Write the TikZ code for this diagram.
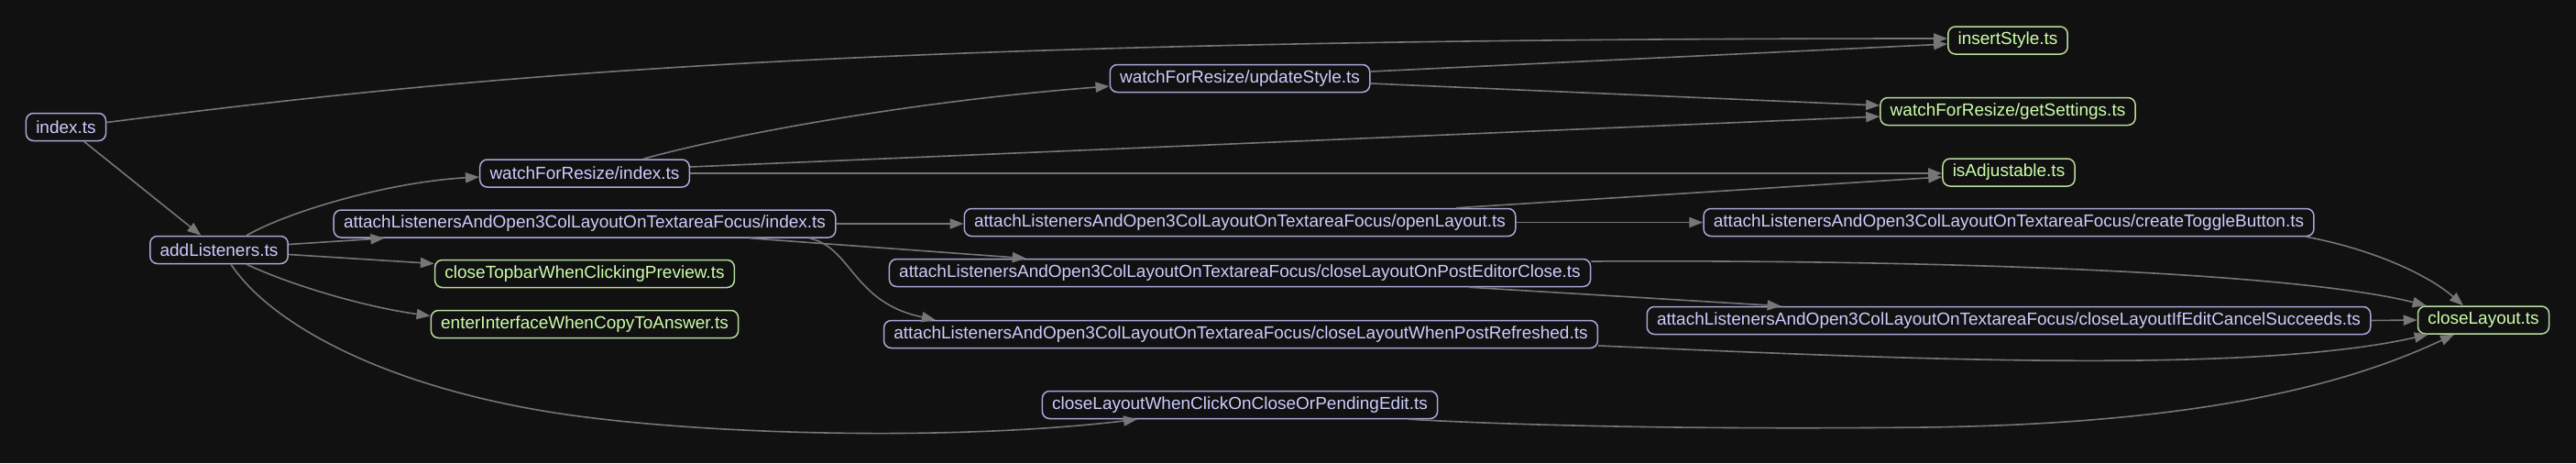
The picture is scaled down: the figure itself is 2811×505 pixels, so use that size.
\documentclass[tikz,border=0pt]{standalone}
\usepackage{fontspec}
\setmainfont{Liberation Sans}
\usepackage{tikz}
\usetikzlibrary{arrows.meta,calc}
\definecolor{bgc}{HTML}{111111}
\definecolor{srcline}{HTML}{A8A8D8}
\definecolor{srctext}{HTML}{CCCCFF}
\definecolor{leafline}{HTML}{B8DCA0}
\definecolor{leaftext}{HTML}{CCFFAA}
\definecolor{depline}{HTML}{767676}
\tikzstyle{file}=[
        draw,
        rounded corners=4pt,
        line width=0.75pt,
        fill=bgc,
        font=\fontsize{9.5}{11}\selectfont,
        inner xsep=5.4pt,
        inner ysep=0pt,
        minimum height=15pt
]
\tikzstyle{src}=[
        file,
        draw=srcline,
        text=srctext
]
\tikzstyle{leaf}=[
        file,
        draw=leafline,
        text=leaftext
]
\tikzstyle{dep}=[
        draw=depline,
        line width=0.8pt,
        -{Triangle[length=7.5pt,width=5.6pt]}
]

\begin{document}
\begin{tikzpicture}[x=0.5pt,y=-0.5pt]
                        \fill[bgc] (0,0) rectangle (2811,505);

                        \node[src] (idx) at (72,138.5) {index.ts};
                        \node[src] (addL) at (239,272.5) {addListeners.ts};

                        \node[src] (wfrIdx) at (638,189) {watchForResize/index.ts};
                        \node[src] (attIdx) at (638,244) {attachListenersAndOpen3ColLayoutOnTextareaFocus/index.ts};
                        \node[leaf] (closeTop) at (638,298.5) {closeTopbarWhenClickingPreview.ts};
                        \node[leaf] (enterIf) at (638,353.5) {enterInterfaceWhenCopyToAnswer.ts};

                        \node[src] (wfrUpd) at (1353,85.5) {watchForResize/updateStyle.ts};
                        \node[src] (openL) at (1353,242.5) {attachListenersAndOpen3ColLayoutOnTextareaFocus/openLayout.ts};
                        \node[src] (onEdClose) at (1353,297.5) {attachListenersAndOpen3ColLayoutOnTextareaFocus/closeLayoutOnPostEditorClose.ts};
                        \node[src] (postRef) at (1354,364.5) {attachListenersAndOpen3ColLayoutOnTextareaFocus/closeLayoutWhenPostRefreshed.ts};
                        \node[src] (clickClose) at (1353,441.5) {closeLayoutWhenClickOnCloseOrPendingEdit.ts};

                        \node[leaf] (insStyle) at (2191,44) {insertStyle.ts};
                        \node[leaf] (getSet) at (2191,121.5) {watchForResize/getSettings.ts};
                        \node[leaf] (isAdj) at (2192,188) {isAdjustable.ts};
                        \node[src] (toggleB) at (2192,242.5) {attachListenersAndOpen3ColLayoutOnTextareaFocus/createToggleButton.ts};
                        \node[src] (ifCancel) at (2192,349.5) {attachListenersAndOpen3ColLayoutOnTextareaFocus/closeLayoutIfEditCancelSucceeds.ts};

                        \node[leaf] (closeL) at (2710,349) {closeLayout.ts};

                        \draw[dep] ($(idx.east)+(0,-5)$) .. controls (500,85) and (900,42) .. ($(insStyle.west)+(0,-2)$);
                        \draw[dep] (idx) -- (addL);

                        \draw[dep] ($(addL.north)+(30,0)$) .. controls (320,228) and (430,198) .. ($(wfrIdx.west)+(0,4)$);
                        \draw[dep] ($(addL.east)+(0,-6)$) -- ($(attIdx.south west)+(56,0)$);
                        \draw[dep] ($(addL.east)+(0,5)$) -- ($(closeTop.west)+(0,-11)$);
                        \draw[dep] ($(addL.south)+(30,0)$) .. controls (320,312) and (400,335) .. ($(enterIf.west)+(0,-9)$);
                        \draw[dep] ($(addL.south)+(13,0)$) .. controls (300,360) and (440,430) .. (640,455)
                            .. controls (800,475) and (1050,480) .. ($(clickClose.south)+(-112,0)$);

                        \draw[dep] ($(wfrIdx.north)+(64,0)$) .. controls (800,146) and (1000,110) .. ($(wfrUpd.west)+(0,8.5)$);
                        \draw[dep] ($(wfrIdx.east)+(0,-7)$) -- ($(getSet.west)+(0,5.5)$);
                        \draw[dep] (wfrIdx.east) -- (wfrIdx.east -| isAdj.west);

                        \draw[dep] ($(wfrUpd.east)+(0,-7.5)$) -- ($(insStyle.west)+(0,4)$);
                        \draw[dep] ($(wfrUpd.east)+(0,5.5)$) -- ($(getSet.west)+(0,-6.5)$);

                        \draw[dep] (attIdx.east) -- (attIdx.east -| openL.west);
                        \draw[dep] ($(attIdx.south)+(180,0)$) -- ($(onEdClose.north west)+(150,0)$);
                        \draw[dep] ($(attIdx.south)+(245,0)$) .. controls (930,270) and (930,330) .. ($(postRef.north west)+(57,0)$);

                        \draw[dep] (openL.east) -- (toggleB.west);
                        \draw[dep] ($(openL.north)+(236,0)$) -- ($(isAdj.west)+(0,5)$);

                        \draw[dep] ($(onEdClose.east)+(0,-12.5)$) .. controls (2100,283) and (2500,296) .. ($(closeL.north west)+(10,0)$);
                        \draw[dep] ($(onEdClose.south)+(250,0)$) -- ($(ifCancel.north west)+(147,0)$);
                        \draw[dep] ($(postRef.east)+(0,12.5)$) .. controls (2050,390) and (2450,410) .. ($(closeL.south west)+(12,0)$);
                        \draw[dep] ($(clickClose.south)+(184,0)$) .. controls (1700,466) and (1900,468) .. (2100,466)
                            .. controls (2400,462) and (2560,420) .. ($(closeL.south)+(-32,0)$);

                        \draw[dep] ($(toggleB.south east)+(-9,0)$) .. controls (2590,272) and (2650,300) .. ($(closeL.north)+(-22,0)$);
                        \draw[dep] (ifCancel.east) -- (closeL.west);

                    \end{tikzpicture}
\end{document}
